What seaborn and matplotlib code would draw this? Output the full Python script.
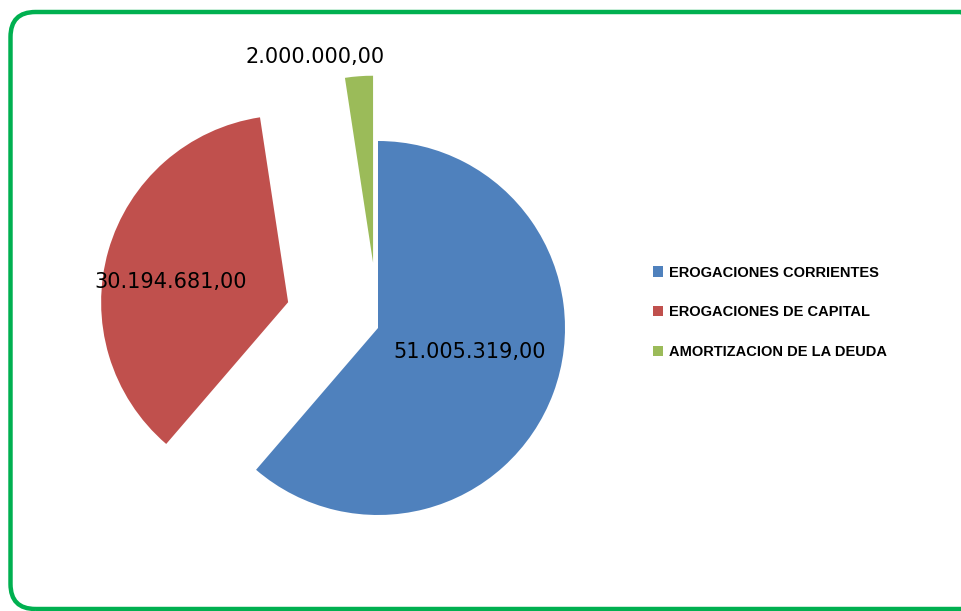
import seaborn as sns
import matplotlib.pyplot as plt
from matplotlib.patches import FancyBboxPatch

# Datos del gráfico
categorias = ["EROGACIONES CORRIENTES", "EROGACIONES DE CAPITAL", "AMORTIZACION DE LA DEUDA"]
montos = [51005319.00, 30194681.00, 2000000.00]
colores = ["#4F81BD", "#C0504D", "#9BBB59"]
separacion = [0.0, 0.5, 0.35]

# Desplazamiento de cada etiqueta respecto al centro de su porción (en radios)
desp_etiqueta = [(0.49, -0.13), (-0.63, 0.11), (-0.31, 1.10)]


def formato_es(v):
    # 51005319.0 -> "51.005.319,00"
    s = f"{v:,.2f}"
    return s.replace(",", "X").replace(".", ",").replace("X", ".")


sns.set_style("white")
plt.rcParams["font.family"] = ["DejaVu Sans"]

fig = plt.figure(figsize=(9.61, 6.11), dpi=100)
ax = fig.add_axes([0, 0, 1, 1])

wedges, _ = ax.pie(montos, colors=colores, explode=separacion, startangle=90,
                   counterclock=False, radius=1, labels=None,
                   wedgeprops=dict(linewidth=0))

# 1 unidad = 187 px, centro del pastel en (378, 283) px desde abajo
r_px = 187
cx, cy = 378, 283
ax.set_aspect("auto")
ax.set_xlim(-cx / r_px, (961 - cx) / r_px)
ax.set_ylim(-cy / r_px, (611 - cy) / r_px)
ax.axis("off")

# Etiquetas con los montos
for w, v, (dx, dy) in zip(wedges, montos, desp_etiqueta):
    x0, y0 = w.center
    ax.text(x0 + dx, y0 + dy, formato_es(v),
            ha="center", va="center", fontsize=15, color="black")

# Leyenda a la derecha
leg = ax.legend(wedges, categorias, loc="center left", bbox_to_anchor=(0.672, 0.489),
                bbox_transform=fig.transFigure, frameon=False,
                prop={"family": "Liberation Sans", "weight": "bold", "size": 10.5},
                handlelength=0.7, handleheight=0.7, handletextpad=0.4,
                labelspacing=1.75, borderpad=0)
for t in leg.get_texts():
    t.set_color("black")

# Borde verde redondeado
borde = FancyBboxPatch((0.105, 0.02), 9.75, 5.97,
                       boxstyle="round,pad=0,rounding_size=0.25",
                       transform=fig.dpi_scale_trans, fill=False,
                       edgecolor="#00B050", linewidth=3.2)
fig.add_artist(borde)

plt.savefig("out.png", dpi=100)
plt.close()
